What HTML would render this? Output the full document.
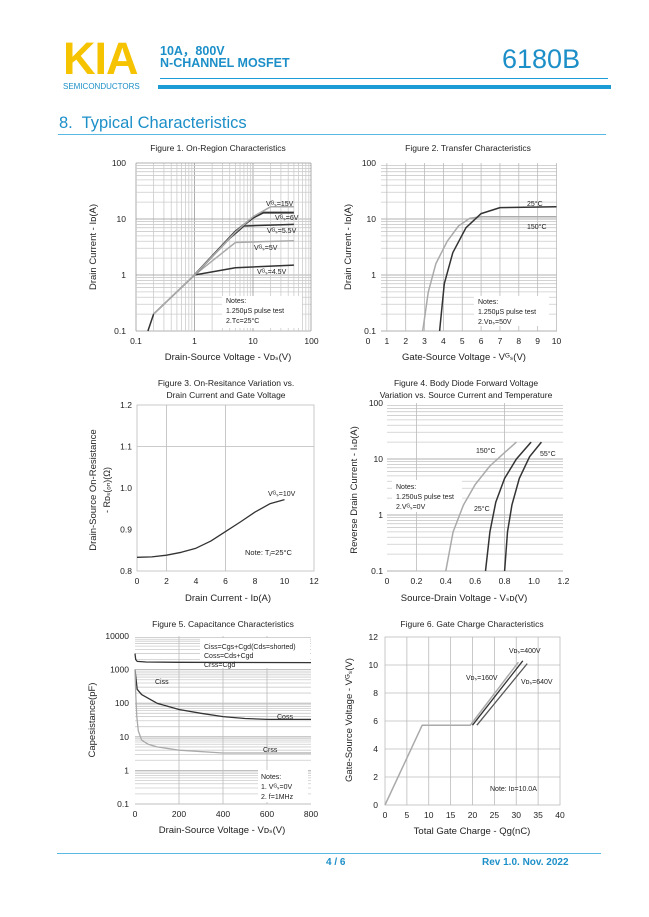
<!DOCTYPE html>
<html><head><meta charset="utf-8">
<style>
html,body{margin:0;padding:0;background:#fff;}
body{width:649px;height:917px;position:relative;overflow:hidden;font-family:"Liberation Sans",Arial,sans-serif;}
.a{position:absolute;white-space:nowrap;}
svg{position:absolute;left:0;top:0;}
</style></head><body>
<div class="a" style="left:63px;top:33px;font-size:45px;font-weight:bold;color:#f6c300;letter-spacing:-1px;">KIA</div>
<div class="a" style="left:63px;top:82px;font-size:8px;color:#1c8fc8;">SEMICONDUCTORS</div>
<div class="a" style="left:160px;top:40px;font-size:12.5px;font-weight:bold;color:#1c8fc8;">10A，800V</div>
<div class="a" style="left:160px;top:56px;font-size:12.5px;font-weight:bold;color:#1c8fc8;">N-CHANNEL MOSFET</div>
<div class="a" style="left:502px;top:44px;font-size:27px;color:#1c8fc8;">6180B</div>
<div class="a" style="left:160px;top:78px;width:448px;height:1px;background:#1c9bd4;"></div>
<div class="a" style="left:158px;top:85px;width:453px;height:4px;background:#1c9bd4;"></div>
<div class="a" style="left:59px;top:114px;font-size:16.5px;color:#1c8fc8;">8.&nbsp; Typical Characteristics</div>
<div class="a" style="left:58px;top:134px;width:548px;height:1px;background:#5ab8e2;"></div>
<div class="a" style="left:57px;top:853px;width:544px;height:1px;background:#5ab8e2;"></div>
<div class="a" style="left:326px;top:857px;font-size:10px;font-weight:bold;color:#1c8fc8;">4 / 6</div>
<div class="a" style="left:482px;top:857px;font-size:10px;font-weight:bold;color:#1c8fc8;">Rev 1.0. Nov. 2022</div>
<svg id="s" width="649" height="917" xmlns="http://www.w3.org/2000/svg" font-family="Liberation Sans, Arial, sans-serif"></svg>
<script>
var S=document.getElementById('s'),NS='http://www.w3.org/2000/svg';
function el(t,a,txt){var e=document.createElementNS(NS,t);for(var k in a)e.setAttribute(k,a[k]);if(txt!=null)e.textContent=txt;S.appendChild(e);return e;}
function L(x1,y1,x2,y2,c,w){el('line',{x1:x1,y1:y1,x2:x2,y2:y2,stroke:c||'#bbb','stroke-width':w||0.8});}
function T(x,y,s,sz,anc,rot,col){var a={x:x,y:y,'font-size':sz||9,fill:col||'#222','text-anchor':anc||'middle'};if(rot)a.transform='rotate(-90 '+x+' '+y+')';el('text',a,s);}
function P(pts,fx,fy,c,w){var d='';pts.forEach(function(p,i){d+=(i?'L':'M')+fx(p[0]).toFixed(1)+' '+fy(p[1]).toFixed(1);});el('path',{d:d,fill:'none',stroke:c,'stroke-width':w||1.5,'stroke-linejoin':'round'});}
var lg=Math.log10;
var DK='#333',GR='#aaa';
// Figure 1
(function(){var fx=function(v){return 136+58.5*lg(v/0.1)},fy=function(v){return 331-56*lg(v/0.1)};
for(var d=0.1;d<100;d*=10)for(var m=1;m<10;m++){L(fx(d*m),163,fx(d*m),331,m==1?'#999':'#ccc');L(136,fy(d*m),311,fy(d*m),m==1?'#999':'#ccc');}
L(311,163,311,331,'#999');L(136,163,311,163,'#999');
el('rect',{x:222,y:296,width:80,height:32,fill:'#fff'});
P([[0.16,0.1],[0.2,0.2],[1,1],[5,1.35],[50,1.5]],fx,fy,DK);
P([[1,1],[5,3.8],[50,4.1]],fx,fy,GR);
P([[1,1],[4,4.5],[7,7.5],[50,8]],fx,fy,DK);
P([[1,1],[5,6],[10,10.5],[15,13],[50,13]],fx,fy,DK,2);
P([[0.2,0.2],[1,1],[5,5.8],[10,11],[20,16.5],[50,16.5]],fx,fy,GR);
T(218,151,'Figure 1. On-Region Characteristics',8.5);
[['0.1',0.1],['1',1],['10',10],['100',100]].forEach(function(a){T(fx(a[1]),344,a[0],8.5);T(126,fy(a[1])+3,a[0],8.5,'end');});
T(228,360,'Drain-Source Voltage  -  V\u1d05\u209b(V)',9.5);
T(96,247,'Drain Current  -  I\u1d05(A)',9.5,'middle',1);
T(266,206,'V\u1d33\u209b=15V',7,'start');T(275,220,'V\u1d33\u209b=6V',7,'start');T(267,233,'V\u1d33\u209b=5.5V',7,'start');T(254,250,'V\u1d33\u209b=5V',7,'start');T(257,274,'V\u1d33\u209b=4.5V',7,'start');
T(226,303,'Notes:',7,'start');T(226,313,'1.250\u03bcS pulse test',7,'start');T(226,323,'2.T\u1d04=25\u00b0C',7,'start');
})();
// Figure 2
(function(){var fx=function(v){return 368+18.85*v},fy=function(v){return 331-56*lg(v/0.1)};
for(var d=0.1;d<100;d*=10)for(var m=1;m<10;m++)L(381,fy(d*m),557,fy(d*m),m==1?'#999':'#ccc');
for(var i=1;i<=10;i++)L(fx(i),163,fx(i),331,'#bbb');
el('rect',{x:474,y:296,width:75,height:30,fill:'#fff'});
P([[2.9,0.1],[3.2,0.5],[3.6,1.6],[4.2,4],[4.8,7.5],[5.4,10.3],[6,11],[10,11]],fx,fy,GR);
P([[3.8,0.1],[4.05,0.7],[4.5,2.5],[5.2,7],[6,12.5],[7,16],[10,16.5]],fx,fy,DK);
T(468,151,'Figure 2. Transfer Characteristics',8.5);
for(var i=0;i<=10;i++)T(fx(i),344,''+i,8.5);
[['100',100],['10',10],['1',1],['0.1',0.1]].forEach(function(a){T(376,fy(a[1])+3,a[0],8.5,'end');});
T(464,360,'Gate-Source Voltage  -  V\u1d33\u209b(V)',9.5);
T(351,247,'Drain Current  -  I\u1d05(A)',9.5,'middle',1);
T(527,206,'25\u00b0C',7,'start');T(527,229,'150\u00b0C',7,'start');
T(478,304,'Notes:',7,'start');T(478,314,'1.250\u03bcS pulse test',7,'start');T(478,324,'2.V\u1d05\u209b=50V',7,'start');
})();
// Figure 3
(function(){var fx=function(v){return 137+14.75*v},fy=function(v){return 571-(v-0.8)*415};
el('rect',{x:137,y:405,width:177,height:166,fill:'none',stroke:'#bbb','stroke-width':0.8});
L(fx(2),405,fx(2),571);L(fx(6),405,fx(6),571);L(137,fy(1.1),314,fy(1.1));
P([[0,0.833],[1,0.834],[2,0.838],[3,0.845],[4,0.855],[5,0.872],[6,0.895],[7,0.918],[8,0.942],[9,0.962],[10,0.972]],fx,fy,DK,1.3);
T(226,386,'Figure 3. On-Resitance Variation vs.',8.5);T(226,398,'Drain Current and Gate Voltage',8.5);
for(var i=0;i<=12;i+=2)T(fx(i),584,''+i,8.5);
['0.8','0.9','1.0','1.1','1.2'].forEach(function(s){T(132,fy(+s)+3,s,8.5,'end');});
T(228,601,'Drain Current  -  I\u1d05(A)',9.5);
T(96,490,'Drain-Source On-Resistance',9.5,'middle',1);T(110,490,'-  R\u1d05\u209b(\u2092\u2099)(\u03a9)',9,'middle',1);
T(268,496,'V\u1d33\u209b=10V',7,'start');T(245,555,'Note: T\u2c7c=25\u00b0C',7.5,'start');
})();
// Figure 4
(function(){var fx=function(v){return 387+147*v},fy=function(v){return 571-56*lg(v/0.1)};
for(var d=0.1;d<100;d*=10)for(var m=1;m<10;m++)L(387,fy(d*m),563,fy(d*m),m==1?'#999':'#ccc');
L(fx(0.2),403,fx(0.2),571,'#bbb');L(fx(0.8),403,fx(0.8),571,'#bbb');
el('rect',{x:392,y:480,width:70,height:32,fill:'#fff'});
P([[0.4,0.1],[0.45,0.5],[0.52,1.5],[0.6,3.5],[0.7,7.5],[0.8,13],[0.88,20]],fx,fy,GR);
P([[0.67,0.1],[0.7,0.5],[0.74,1.7],[0.8,4.5],[0.88,10],[0.98,20]],fx,fy,DK);
P([[0.8,0.1],[0.82,0.5],[0.85,1.5],[0.9,4.5],[0.97,11],[1.05,20]],fx,fy,DK);
T(466,386,'Figure 4. Body Diode Forward Voltage',8.5);T(466,398,'Variation vs. Source Current and Temperature',8.5);
['0','0.2','0.4','0.6','0.8','1.0','1.2'].forEach(function(s){T(fx(+s),584,s,8.5);});
[['100',100],['10',10],['1',1],['0.1',0.1]].forEach(function(a){T(383,fy(a[1])+3,a[0],8.5,'end');});
T(464,601,'Source-Drain Voltage  -  V\u209b\u1d05(V)',9.5);
T(357,490,'Reverse Drain Current  -  I\u209b\u1d05(A)',9.5,'middle',1);
T(476,453,'150\u00b0C',7,'start');T(540,456,'55\u00b0C',7,'start');T(474,511,'25\u00b0C',7,'start');
T(396,489,'Notes:',7,'start');T(396,499,'1.250uS pulse test',7,'start');T(396,509,'2.V\u1d33\u209b=0V',7,'start');
})();
// Figure 5
(function(){var fx=function(v){return 135+0.22*v},fy=function(v){return 804-33.6*lg(v/0.1)};
for(var d=0.1;d<10000;d*=10)for(var m=1;m<10;m++){var y=fy(d*m);L(135,y,311,y,m==1?'#aaa':'#ccc');}
L(fx(200),636,fx(200),804,'#bbb');L(fx(400),636,fx(400),804,'#bbb');L(fx(600),636,fx(600),804,'#bbb');
el('rect',{x:200,y:638,width:110,height:30,fill:'#fff'});el('rect',{x:258,y:770,width:50,height:32,fill:'#fff'});
var ci=[[0,3000],[3,2000],[10,1750],[50,1680],[200,1650],[800,1620]],co=[[0,1000],[5,500],[10,260],[30,180],[100,100],[200,65],[300,50],[400,40],[500,35],[600,33],[800,33]],cr=[[0,1000],[3,200],[8,40],[15,15],[30,8],[60,6],[100,5],[200,4],[400,3.3],[800,3.3]];
P(ci,fx,fy,DK,1.3);P(co,fx,fy,DK,1.3);P(cr,fx,fy,GR,1.3);
T(223,627,'Figure 5. Capacitance Characteristics',8.5);
['0','200','400','600','800'].forEach(function(s){T(fx(+s),817,s,8.5);});
[['10000',10000],['1000',1000],['100',100],['10',10],['1',1],['0.1',0.1]].forEach(function(a){T(129,fy(a[1])+3,a[0],8.5,'end');});
T(222,833,'Drain-Source Voltage  -  V\u1d05\u209b(V)',9.5);
T(95,720,'Capesistance(pF)',9.5,'middle',1);
T(204,649,'Ciss=Cgs+Cgd(Cds=shorted)',7,'start');T(204,658,'Coss=Cds+Cgd',7,'start');T(204,667,'Crss=Cgd',7,'start');
T(155,684,'Ciss',7,'start');T(277,719,'Coss',7,'start');T(263,752,'Crss',7,'start');
T(261,779,'Notes:',7,'start');T(261,789,'1. V\u1d33\u209b=0V',7,'start');T(261,799,'2. f=1MHz',7,'start');
})();
// Figure 6
(function(){var fx=function(v){return 385+4.375*v},fy=function(v){return 805-14*v};
el('rect',{x:385,y:637,width:175,height:168,fill:'none',stroke:'#bbb','stroke-width':0.8});
for(var i=5;i<40;i+=5)L(fx(i),637,fx(i),805);
for(var j=2;j<12;j+=2)L(385,fy(j),560,fy(j));
P([[0,0],[8.5,5.7],[19.5,5.7],[30.5,10.2]],fx,fy,GR,1.5);
P([[20,5.7],[31.5,10.3]],fx,fy,DK,1.3);P([[21,5.7],[32.5,10.1]],fx,fy,'#555',1.3);
T(472,627,'Figure 6. Gate Charge Characteristics',8.5);
for(var i=0;i<=40;i+=5)T(fx(i),818,''+i,8.5);
for(var j=0;j<=12;j+=2)T(378,fy(j)+3,''+j,8.5,'end');
T(472,834,'Total Gate Charge  -  Qg(nC)',9.5);
T(352,720,'Gate-Source Voltage  -  V\u1d33\u209b(V)',9.5,'middle',1);
T(509,653,'V\u1d05\u209b=400V',7,'start');T(466,680,'V\u1d05\u209b=160V',7,'start');T(521,684,'V\u1d05\u209b=640V',7,'start');
T(490,791,'Note: I\u1d05=10.0A',7,'start');
})();
</script>
</body></html>
